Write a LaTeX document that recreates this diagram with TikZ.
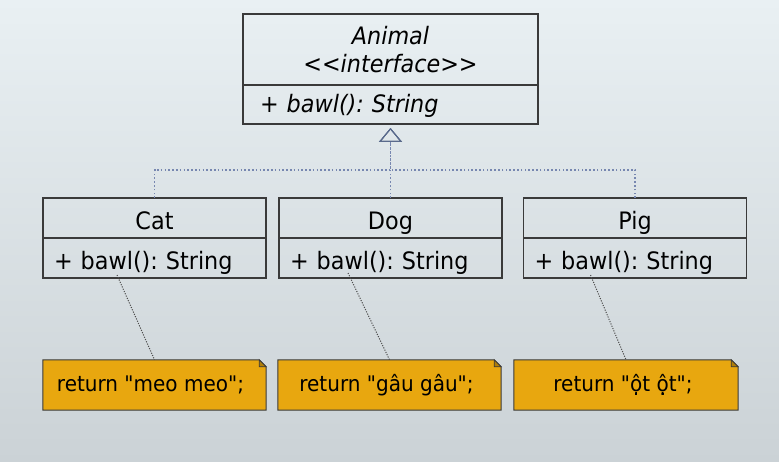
\documentclass[tikz,border=0pt]{standalone}
\usepackage{fontspec}
\newfontfamily\umlfont[FakeStretch=0.93]{DejaVu Sans}
\usetikzlibrary{positioning,arrows.meta,backgrounds}
\definecolor{bgtop}{HTML}{E9F0F3}
\definecolor{bgbot}{HTML}{CBD2D6}
\definecolor{noteorange}{HTML}{E8A70F}
\definecolor{notefold}{HTML}{B07E08}
\definecolor{boxline}{HTML}{3A3A3A}
\definecolor{linkblue}{HTML}{7787B0}
\definecolor{tipblue}{HTML}{5A6A8C}

\begin{document}
\frenchspacing
\begin{tikzpicture}[x=1pt, y=-1pt,
  cls/.style={draw=boxline, line width=1.2pt, outer sep=0pt, inner sep=0pt,
              minimum width=223pt, minimum height=40pt,
              text height=24pt, text depth=0pt,
              font=\umlfont\fontsize{24}{28}\selectfont},
  meth/.style={cls, text width=201pt, inner xsep=11pt, align=left},
  ital/.style={font=\umlfont\itshape\fontsize{24}{28}\selectfont},
  note/.style={minimum width=223pt, minimum height=50pt, inner sep=0pt,
               font=\umlfont\fontsize{21.5}{25}\selectfont},
  real/.style={draw=linkblue, line width=1.6pt, dash pattern=on 1.6pt off 2.2pt,
               -{Triangle[open, width=23pt, length=14pt, line width=1pt, color=tipblue]},
               shorten >=4pt},
  anch/.style={draw=black!70, line width=1pt, dash pattern=on 1.1pt off 1.4pt}
]
% ---- interface ---------------------------------------------------------
\node[cls, ital, minimum width=295pt, minimum height=71pt, align=center,
  text height=, text depth=] (animal) at (390.5,49.5) {Animal\\<{}<interface>{}>};
\node[meth, ital, minimum width=295pt, minimum height=39pt, text width=261pt,
  inner xsep=17pt, text height=21pt, text depth=4pt, below=0pt of animal]
  (animal-m) {+ bawl(): String};

% ---- lop cai dat -------------------------------------------------------
\foreach \n/\t/\x in {cat/Cat/154.5, dog/Dog/390.5, pig/Pig/635}{
  \node[cls] (\n) at (\x,218) {\t};
  \node[meth, below=0pt of \n] (\n-m) {+ bawl(): String};
}

% ---- quan he realization -----------------------------------------------
\draw[real] (dog.north) -- (animal-m.south);
\draw[real] (cat.north) -- ++(0,-28) -| (animal-m.south);
\draw[real] (pig.north) -- ++(0,-28) -| (animal-m.south);

% ---- ghi chu -----------------------------------------------------------
\node[note] (cat-n) at (154.5,385) {return "meo meo";\hspace*{8pt}};
\node[note] (dog-n) at (389.5,385) {return "gâu gâu";\hspace*{6pt}};
\node[note, minimum width=224pt] (pig-n) at (626,385) {return "ột ột";\hspace*{6pt}};

\begin{scope}[on background layer]
  \shade[top color=bgtop, bottom color=bgbot] (0,0) rectangle (779,462);
  \foreach \n in {cat-n,dog-n,pig-n}
    \filldraw[fill=noteorange, draw=boxline, line width=1pt]
      (\n.south west) -- (\n.north west) -- ([xshift=-7pt]\n.north east)
      -- ([yshift=-7pt]\n.north east) -- (\n.south east) -- cycle;
\end{scope}
\foreach \n in {cat-n,dog-n,pig-n}
  \filldraw[fill=notefold, draw=boxline, line width=0.8pt]
    ([xshift=-7pt]\n.north east) -- ++(0,7) -- ([yshift=-7pt]\n.north east) -- cycle;

\foreach \n/\dx/\dy in {cat/74/3, dog/69/5, pig/67/3}
  \draw[anch] ([shift={(\dx pt,\dy pt)}]\n-m.south west) -- (\n-n.north);
\end{tikzpicture}
\end{document}
